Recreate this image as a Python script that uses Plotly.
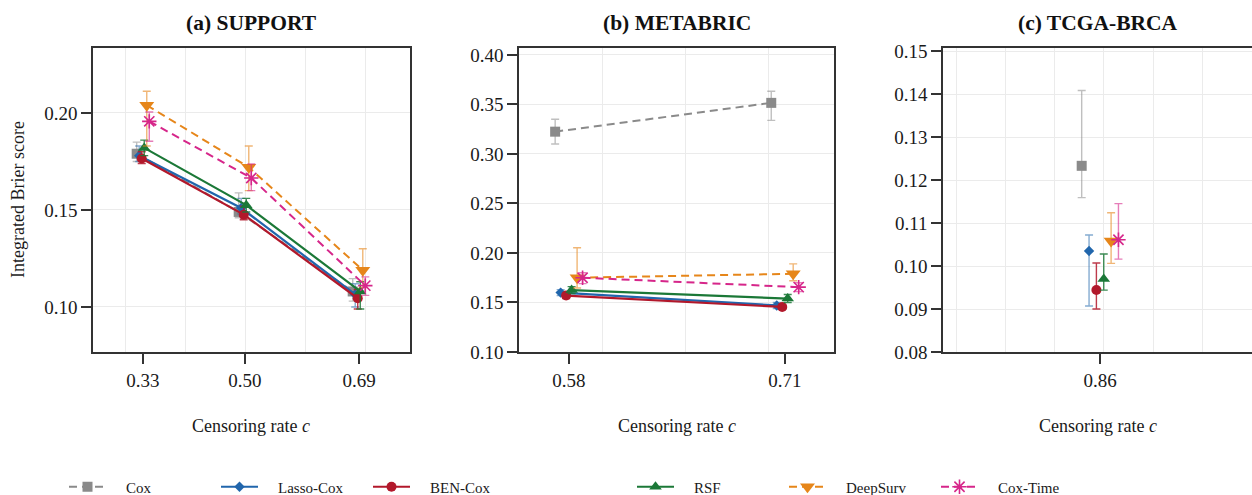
import plotly.graph_objects as go

# ---------------- data ----------------
methods = ["Cox", "Lasso-Cox", "BEN-Cox", "RSF", "DeepSurv", "Cox-Time"]

support_rates = [0.33, 0.50, 0.69]
support_tick_text = ["0.33", "0.50", "0.69"]
support_mean = {
    "Cox":       [0.179, 0.149, 0.108],
    "Lasso-Cox": [0.178, 0.151, 0.1065],
    "BEN-Cox":   [0.1765, 0.1476, 0.1045],
    "RSF":       [0.182, 0.1525, 0.108],
    "DeepSurv":  [0.204, 0.172, 0.119],
    "Cox-Time":  [0.1957, 0.1665, 0.1110],
}
support_low = {
    "Cox":       [0.175, 0.146, 0.103],
    "Lasso-Cox": [0.175, 0.148, 0.100],
    "BEN-Cox":   [0.174, 0.145, 0.099],
    "RSF":       [0.178, 0.149, 0.099],
    "DeepSurv":  [0.183, 0.160, 0.110],
    "Cox-Time":  [0.1854, 0.1600, 0.106],
}
support_high = {
    "Cox":       [0.1850, 0.1588, 0.1146],
    "Lasso-Cox": [0.1830, 0.1560, 0.1120],
    "BEN-Cox":   [0.1800, 0.1520, 0.1090],
    "RSF":       [0.1860, 0.1560, 0.1130],
    "DeepSurv":  [0.2112, 0.1830, 0.1300],
    "Cox-Time":  [0.2005, 0.1737, 0.1155],
}

metabric_rates = [0.58, 0.71]
metabric_tick_text = ["0.58", "0.71"]
metabric_mean = {
    "Cox":       [0.3225, 0.3516],
    "Lasso-Cox": [0.1600, 0.1470],
    "BEN-Cox":   [0.1570, 0.1455],
    "RSF":       [0.1625, 0.1540],
    "DeepSurv":  [0.1750, 0.1790],
    "Cox-Time":  [0.1750, 0.1655],
}
metabric_low = {
    "Cox":       [0.3100, 0.3339],
    "Lasso-Cox": [0.1570, 0.1440],
    "BEN-Cox":   [0.1540, 0.1430],
    "RSF":       [0.1590, 0.1500],
    "DeepSurv":  [0.1646, 0.1720],
    "Cox-Time":  [0.1690, 0.1610],
}
metabric_high = {
    "Cox":       [0.3350, 0.3633],
    "Lasso-Cox": [0.1630, 0.1500],
    "BEN-Cox":   [0.1600, 0.1480],
    "RSF":       [0.1660, 0.1580],
    "DeepSurv":  [0.2053, 0.1890],
    "Cox-Time":  [0.1800, 0.1700],
}

tcga_rates = [0.86]
tcga_tick_text = ["0.86"]
tcga_mean = {
    "Cox":       [0.1233],
    "Lasso-Cox": [0.1035],
    "BEN-Cox":   [0.0944],
    "RSF":       [0.0970],
    "DeepSurv":  [0.1058],
    "Cox-Time":  [0.1061],
}
tcga_low = {
    "Cox":       [0.1159],
    "Lasso-Cox": [0.0907],
    "BEN-Cox":   [0.0900],
    "RSF":       [0.0944],
    "DeepSurv":  [0.1006],
    "Cox-Time":  [0.1016],
}
tcga_high = {
    "Cox":       [0.1408],
    "Lasso-Cox": [0.1072],
    "BEN-Cox":   [0.1007],
    "RSF":       [0.1028],
    "DeepSurv":  [0.1124],
    "Cox-Time":  [0.1145],
}

panel_titles = ["<b>(a) SUPPORT</b>", "<b>(b) METABRIC</b>", "<b>(c) TCGA-BRCA</b>"]

# ---------------- styles ----------------
FONT = "Liberation Serif"
W, H = 1252, 495
colors = {
    "Cox": "#8a8a8a", "Lasso-Cox": "#2166ac", "BEN-Cox": "#b2182b",
    "RSF": "#1b7837", "DeepSurv": "#e6861a", "Cox-Time": "#d6268a",
}
err_colors = {
    "Cox": "rgba(138,138,138,0.55)", "Lasso-Cox": "rgba(33,102,172,0.55)",
    "BEN-Cox": "rgba(178,24,43,0.85)", "RSF": "rgba(27,120,55,0.85)",
    "DeepSurv": "rgba(230,134,26,0.6)", "Cox-Time": "rgba(214,38,138,0.6)",
}
dashes = {"Cox": "8px,5px", "Lasso-Cox": "solid", "BEN-Cox": "solid",
          "RSF": "solid", "DeepSurv": "8px,5px", "Cox-Time": "8px,5px"}
symbols = {"Cox": "square", "Lasso-Cox": "diamond", "BEN-Cox": "circle",
           "RSF": "triangle-up", "DeepSurv": "triangle-down", "Cox-Time": "asterisk"}
sizes = {"Cox": 10, "Lasso-Cox": 8, "BEN-Cox": 10, "RSF": 11, "DeepSurv": 13, "Cox-Time": 12}
legend_of = {"Cox": "legend", "Lasso-Cox": "legend", "BEN-Cox": "legend",
             "RSF": "legend2", "DeepSurv": "legend2", "Cox-Time": "legend2"}
PAD = "\u00a0\u00a0\u00a0\u00a0"

panels = [
    dict(rates=support_rates, ticks=support_tick_text, mean=support_mean, low=support_low,
         high=support_high, step=0.0042, xr=[0.2467, 0.775], yr=[0.0768, 0.2335],
         ydt=0.05, y0=0.10, gx0=0.3001, gdt=0.1, dom=[93, 410]),
    dict(rates=metabric_rates, ticks=metabric_tick_text, mean=metabric_mean, low=metabric_low,
         high=metabric_high, step=0.0033, xr=[0.55, 0.7395], yr=[0.10, 0.407],
         ydt=0.05, y0=0.10, gx0=0.5501, gdt=0.05, dom=[519, 834]),
    dict(rates=tcga_rates, ticks=tcga_tick_text, mean=tcga_mean, low=tcga_low,
         high=tcga_high, step=0.0030, xr=[0.7959, 0.922], yr=[0.08, 0.1507],
         ydt=0.01, y0=0.08, gx0=0.8016, gdt=0.02, dom=[943, 1252]),
]

fig = go.Figure()
ydom = [1 - 352 / H, 1 - 48 / H]

for p_i, p in enumerate(panels):
    xa = "x" if p_i == 0 else f"x{p_i + 1}"
    ya = "y" if p_i == 0 else f"y{p_i + 1}"
    for k, m in enumerate(methods):
        off = (k - 2.5) * p["step"]
        xs = [r + off for r in p["rates"]]
        ys = p["mean"][m]
        up = [h - v for h, v in zip(p["high"][m], ys)]
        dn = [v - l for v, l in zip(ys, p["low"][m])]
        is_ast = symbols[m] == "asterisk"
        fig.add_trace(go.Scatter(
            x=xs, y=ys, xaxis=xa, yaxis=ya,
            mode="lines+markers",
            name=PAD + m, legendgroup=m, showlegend=(p_i == 0), legend=legend_of[m],
            line=dict(color=colors[m], width=2.2 if dashes[m] == "solid" else 2, dash=dashes[m]),
            marker=dict(symbol=symbols[m], size=sizes[m], color=colors[m],
                        line=dict(color=colors[m], width=1.6 if is_ast else 0)),
            error_y=dict(type="data", symmetric=False, array=up, arrayminus=dn,
                         color=err_colors[m], thickness=1.4, width=4),
        ))

layout = dict(
    width=W, height=H, margin=dict(l=0, r=0, t=0, b=0, autoexpand=False),
    paper_bgcolor="white", plot_bgcolor="white",
    font=dict(family=FONT, size=19, color="#1a1a1a"),
    showlegend=True,
)
axis_line = "#333333"
for p_i, p in enumerate(panels):
    sfx = "" if p_i == 0 else str(p_i + 1)
    x_id = "x" if p_i == 0 else f"x{p_i + 1}"
    y_id = "y" if p_i == 0 else f"y{p_i + 1}"
    layout["xaxis" + sfx] = dict(
        domain=[p["dom"][0] / W, p["dom"][1] / W], anchor=y_id, range=p["xr"],
        tickmode="array", tickvals=p["rates"], ticktext=p["ticks"],
        ticks="outside", ticklen=10, tickwidth=1.5, tickcolor=axis_line,
        showgrid=False, zeroline=False,
        showline=True, linecolor=axis_line, linewidth=1.5, mirror=True,
        minor=dict(tickmode="linear", tick0=p["gx0"], dtick=p["gdt"], showgrid=True,
                   gridcolor="#ebebeb", gridwidth=1, ticks=""),
        tickfont=dict(size=19),
    )
    layout["yaxis" + sfx] = dict(
        domain=ydom, anchor=x_id, range=p["yr"],
        tickmode="linear", tick0=p["y0"], dtick=p["ydt"], tickformat=".2f",
        ticks="outside", ticklen=10, tickwidth=1.5, tickcolor=axis_line,
        showgrid=True, gridcolor="#ebebeb", gridwidth=1, zeroline=False,
        showline=True, linecolor=axis_line, linewidth=1.5, mirror=(p_i != 2),
        tickfont=dict(size=19),
    )

layout["legend"] = dict(orientation="h", x=64 / W, xanchor="left", y=1 - 487 / H,
                        yanchor="middle", font=dict(size=15), itemwidth=37,
                        entrywidth=100, entrywidthmode="pixels", bgcolor="rgba(0,0,0,0)")
layout["legend2"] = dict(orientation="h", x=632 / W, xanchor="left", y=1 - 487 / H,
                         yanchor="middle", font=dict(size=15), itemwidth=37,
                         entrywidth=100, entrywidthmode="pixels", bgcolor="rgba(0,0,0,0)")

annotations = []
for p_i, p in enumerate(panels):
    cx = (p["dom"][0] + p["dom"][1]) / 2 / W
    annotations.append(dict(text=panel_titles[p_i], x=cx, y=1 - 23 / H, xref="paper", yref="paper",
                            showarrow=False, xanchor="center", yanchor="middle",
                            font=dict(size=21.5, family=FONT, color="#111111")))
    annotations.append(dict(text="Censoring rate <i>c</i>", x=cx, y=1 - 426 / H, xref="paper",
                            yref="paper", showarrow=False, xanchor="center", yanchor="middle",
                            font=dict(size=18, family=FONT, color="#1a1a1a")))
annotations.append(dict(text="Integrated Brier score", x=18 / W, y=1 - 200 / H, xref="paper",
                        yref="paper", showarrow=False, textangle=-90, xanchor="center",
                        yanchor="middle", font=dict(size=18, family=FONT, color="#1a1a1a")))
layout["annotations"] = annotations

fig.update_layout(**layout)
fig.write_html("out.html", config={"displayModeBar": False},
               post_script="document.body.style.margin='0px';document.body.style.overflow='hidden';")
